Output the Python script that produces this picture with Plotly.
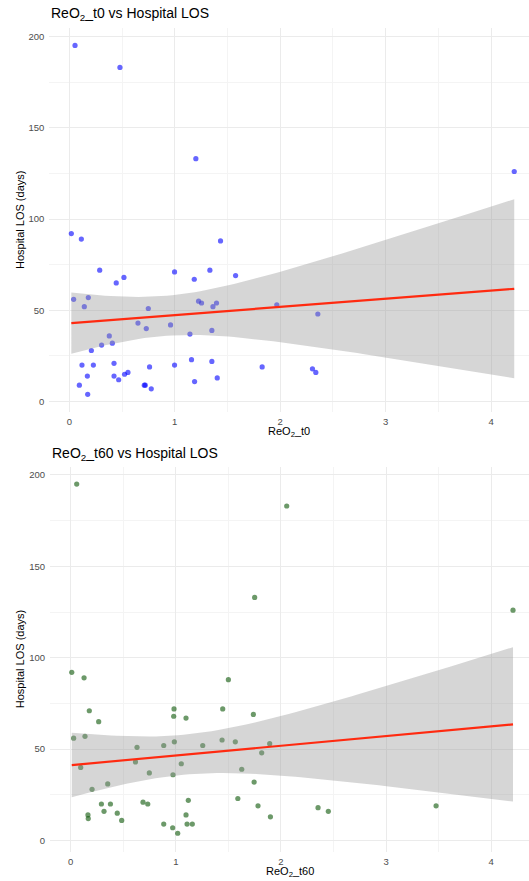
import numpy as np
import plotly.graph_objects as go

# ---- data ----
t0_x = [0.054, 0.48, 1.20, 4.22, 0.019, 0.114, 1.434, 0.288, 0.998, 1.333, 1.577, 1.185,
        0.518, 0.445, 0.041, 0.18, 0.142, 0.749, 1.226, 1.254, 1.396, 1.362, 0.651, 0.73,
        0.96, 1.352, 1.144, 0.379, 0.408, 0.306, 0.209, 0.12, 0.228, 0.424, 1.159, 1.352,
        0.998, 0.761, 1.829, 0.171, 0.424, 0.524, 0.556, 0.468, 1.403, 1.188, 0.095, 0.711,
        0.72, 0.777, 0.174, 1.968, 2.357, 2.306, 2.338]
t0_y = [195, 183, 133, 126, 92, 89, 88, 72, 71, 72, 69, 67, 68, 65, 56, 57, 52, 51, 55, 54,
        54, 52, 43, 40, 42, 39, 37, 36, 32, 31, 28, 20, 20, 21, 23, 22, 20, 19, 19, 14, 14,
        15, 16, 12, 13, 11, 9, 9, 9, 7, 4, 53, 48, 18, 16]

t60_x = [0.057, 1.75, 2.055, 4.208, 0.01, 0.127, 1.50, 0.177, 0.983, 1.446, 1.738, 0.98,
         1.097, 0.266, 0.028, 0.136, 0.986, 1.44, 1.566, 0.885, 1.256, 0.631, 1.817, 0.616,
         1.052, 0.095, 1.627, 0.748, 0.973, 1.745, 0.352, 0.203, 1.59, 1.119, 0.688, 0.292,
         0.378, 0.733, 1.782, 0.317, 0.443, 0.164, 1.097, 0.167, 0.485, 0.885, 1.107, 1.157,
         0.97, 1.018, 1.893, 1.9, 2.353, 2.451, 3.476]
t60_y = [195, 133, 183, 126, 92, 89, 88, 71, 72, 72, 69, 68, 67, 65, 56, 57, 54, 55, 54, 52,
         52, 51, 48, 43, 42, 40, 39, 37, 36, 32, 31, 28, 23, 22, 21, 20, 20, 20, 19, 16, 15,
         14, 14, 12, 11, 9, 9, 9, 7, 4, 53, 13, 18, 16, 19]

x_ticks = [0, 1, 2, 3, 4]
y_ticks = [0, 50, 100, 150, 200]

W, H = 529, 881
FONT = "Liberation Sans, Arial, sans-serif"


def lm_band(x, y, n_pts=80, tval=2.0057):
    x = np.asarray(x, float)
    y = np.asarray(y, float)
    n = len(x)
    b, a = np.polyfit(x, y, 1)
    resid = y - (a + b * x)
    s = np.sqrt(np.sum(resid ** 2) / (n - 2))
    xm = x.mean()
    sxx = np.sum((x - xm) ** 2)
    xs = np.linspace(x.min(), x.max(), n_pts)
    fit = a + b * xs
    se = s * np.sqrt(1.0 / n + (xs - xm) ** 2 / sxx)
    return xs, fit, fit - tval * se, fit + tval * se


fig = go.Figure()

panels = [
    (t0_x, t0_y, "rgba(0,0,255,0.6)", "x", "y"),
    (t60_x, t60_y, "rgba(10,85,5,0.6)", "x2", "y2"),
]
for xs_, ys_, col, xa, ya in panels:
    fig.add_trace(go.Scatter(x=xs_, y=ys_, mode="markers", xaxis=xa, yaxis=ya,
                             marker=dict(size=5.2, color=col, line=dict(width=0)),
                             showlegend=False, hoverinfo="skip"))
    bx, fit, lo, hi = lm_band(xs_, ys_)
    fig.add_trace(go.Scatter(x=np.concatenate([bx, bx[::-1]]),
                             y=np.concatenate([hi, lo[::-1]]),
                             mode="lines", fill="toself", xaxis=xa, yaxis=ya,
                             fillcolor="rgba(153,153,153,0.4)", line=dict(width=0),
                             showlegend=False, hoverinfo="skip"))
    fig.add_trace(go.Scatter(x=bx, y=fit, mode="lines", xaxis=xa, yaxis=ya,
                             line=dict(color="#FF2A10", width=2.2),
                             showlegend=False, hoverinfo="skip"))

# panel geometry (pixels)
top_px = (28.3, 411.7)
bot_px = (466.7, 851.7)


def ydom(p):
    return [1 - p[1] / H, 1 - p[0] / H]


axis_common = dict(showline=False, zeroline=False, ticks="", showgrid=True,
                   gridcolor="#EBEBEB", gridwidth=1.1,
                   tickfont=dict(family=FONT, size=9.5, color="#4D4D4D"))

fig.update_layout(
    width=W, height=H,
    margin=dict(l=0, r=0, t=0, b=0),
    paper_bgcolor="white", plot_bgcolor="white",
    font=dict(family=FONT),
    xaxis=dict(domain=[49.3 / W, 1], range=[-0.19, 4.36], tickmode="array",
               tickvals=x_ticks, ticktext=[str(v) for v in x_ticks],
               minor=dict(dtick=0.5, tick0=0, showgrid=True, gridcolor="#F4F4F4", gridwidth=0.6),
               anchor="y", ticklabelstandoff=3, **axis_common),
    yaxis=dict(domain=ydom(top_px), range=[-5.5, 204.4], tickmode="array",
               tickvals=y_ticks, ticktext=[str(v) for v in y_ticks],
               minor=dict(dtick=25, tick0=0, showgrid=True, gridcolor="#F4F4F4", gridwidth=0.6),
               anchor="x", ticklabelstandoff=4, **axis_common),
    xaxis2=dict(domain=[50 / W, 1], range=[-0.197, 4.36], tickmode="array",
                tickvals=x_ticks, ticktext=[str(v) for v in x_ticks],
                minor=dict(dtick=0.5, tick0=0, showgrid=True, gridcolor="#F4F4F4", gridwidth=0.6),
                anchor="y2", ticklabelstandoff=3, **axis_common),
    yaxis2=dict(domain=ydom(bot_px), range=[-6.1, 204.5], tickmode="array",
                tickvals=y_ticks, ticktext=[str(v) for v in y_ticks],
                minor=dict(dtick=25, tick0=0, showgrid=True, gridcolor="#F4F4F4", gridwidth=0.6),
                anchor="x2", ticklabelstandoff=4, **axis_common),
)

titles = [
    ("ReO<sub>2</sub>_t0 vs Hospital LOS", 49.3, 14.5),
    ("ReO<sub>2</sub>_t60 vs Hospital LOS", 50, 454),
]
for txt, px, py in titles:
    fig.add_annotation(text=txt, x=px / W, y=1 - py / H, xref="paper", yref="paper",
                       xanchor="left", yanchor="middle", showarrow=False,
                       font=dict(family=FONT, size=14, color="black"))

xtitles = [("ReO<sub>2</sub>_t0", (49.3 + W) / 2, 432), ("ReO<sub>2</sub>_t60", (50 + W) / 2, 872)]
for txt, px, py in xtitles:
    fig.add_annotation(text=txt, x=px / W, y=1 - py / H, xref="paper", yref="paper",
                       xanchor="center", yanchor="middle", showarrow=False,
                       font=dict(family=FONT, size=11, color="black"))

for cy in [(top_px[0] + top_px[1]) / 2, (bot_px[0] + bot_px[1]) / 2]:
    fig.add_annotation(text="Hospital LOS (days)", x=20 / W, y=1 - cy / H,
                       xref="paper", yref="paper", xanchor="center", yanchor="middle",
                       textangle=-90, showarrow=False,
                       font=dict(family=FONT, size=11, color="black"))

fig.write_html("out.html", config={"displayModeBar": False},
               post_script="document.body.style.margin='0px';document.body.style.overflow='hidden';")
